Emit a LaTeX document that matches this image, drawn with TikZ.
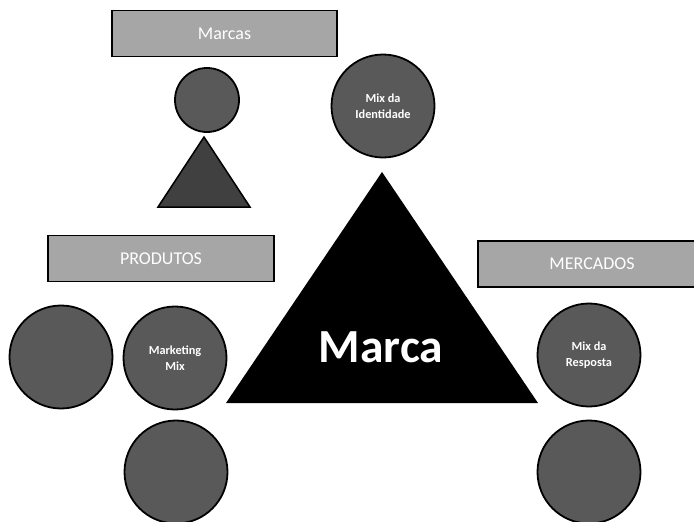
\documentclass[tikz,border=0pt]{standalone}
\usepackage{fontspec}
\setmainfont{Carlito}
\begin{document}
\begin{tikzpicture}[x=1pt,y=-1pt,
  labelbox/.style={draw=black, line width=1.5pt, fill=boxgray, text=white,
    minimum height=46pt, inner sep=0pt, font=\fontsize{18}{20}\selectfont},
  mixcircle/.style={circle, draw=black, line width=1.8pt, fill=circgray,
    minimum size=103pt, inner sep=0pt, text=white, align=center,
    font=\fontsize{12.3}{15.5}\selectfont\bfseries}]
\definecolor{boxgray}{HTML}{A6A6A6}
\definecolor{circgray}{HTML}{595959}
\definecolor{smalltri}{HTML}{404040}
\useasboundingbox (0,0) rectangle (694,522);
\clip (0,0) rectangle (694,522);

% header boxes
\node[labelbox, minimum width=225pt] (marcas) at (224.5,33.5) {Marcas};
\node[labelbox, minimum width=226pt] (produtos) at (161,258.5) {PRODUTOS};
\node[labelbox, minimum width=228pt] (mercados) at (592,264) {MERCADOS};

% brand symbol: small circle over small triangle
\node[circle, draw=black, line width=1.8pt, fill=circgray, minimum size=64pt,
  inner sep=0pt] (cabeca) at (207,100) {};
\coordinate (st1) at (204,137);
\coordinate (st2) at (250,207);
\coordinate (st3) at (158,207);
\filldraw[fill=smalltri, draw=black, line width=1.5pt, line join=miter]
  (st1) -- (st2) -- (st3) -- cycle;

% central triangle
\coordinate (bt1) at (382,172);
\coordinate (bt2) at (538,403);
\coordinate (bt3) at (226,403);
\fill[black] (bt1) -- (bt2) -- (bt3) -- cycle;
\node[anchor=base, text=white, font=\fontsize{47.5}{50}\selectfont\bfseries,
  inner sep=0pt] (marca) at (381,362) {Marca};

% circles
\node[mixcircle] (identidade) at (383,106) {Mix da\\Identidade};
\node[mixcircle] (prodA) at (61,357) {};
\node[mixcircle] (mkt) at (175,358) {Marketing\\Mix};
\node[mixcircle] (prodB) at (176,472) {};
\node[mixcircle] (resposta) at (589,355) {Mix da\\Resposta};
\node[mixcircle] (mercB) at (589,472) {};
\end{tikzpicture}
\end{document}
